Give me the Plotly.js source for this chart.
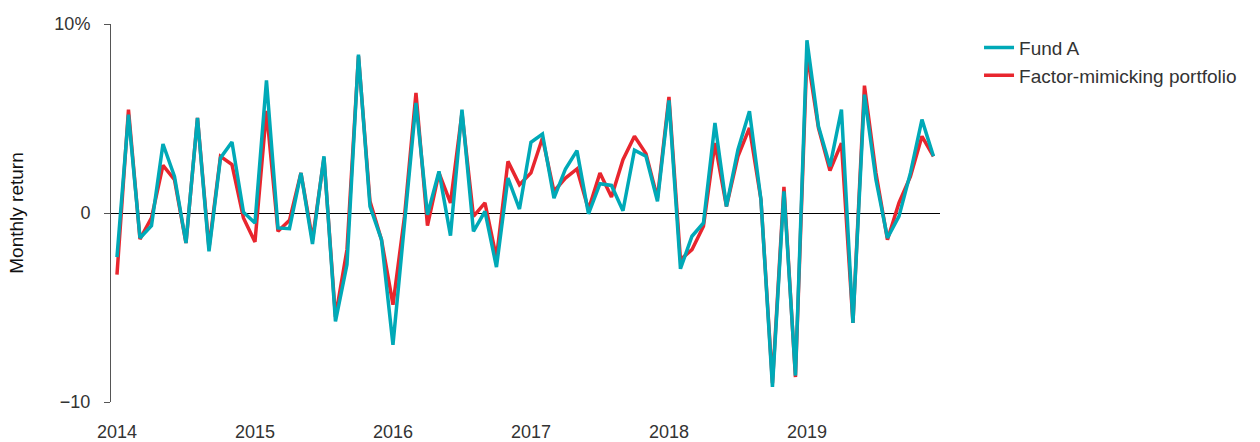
<!DOCTYPE html>
<html>
<head>
<meta charset="utf-8">
<script src="https://cdn.plot.ly/plotly-3.0.1.min.js"></script>
<style>html,body{margin:0;padding:0;background:#fff;}#chart{width:1260px;height:442px;}</style>
</head>
<body>
<div id="chart"></div>
<script>
const years = ['2014','2015','2016','2017','2018','2019'];
const months = [];
years.forEach(y => { for (let m = 1; m <= 12; m++) months.push(y + '-' + String(m).padStart(2,'0')); });

const fundA = [
  -2.33, 5.2, -1.32, -0.67, 3.65, 1.94, -1.59, 5.03, -2.03, 2.91, 3.76, 0.04,
  -0.53, 7.02, -0.79, -0.83, 2.12, -1.64, 3.0, -5.73, -2.73, 8.38, 0.35, -1.41,
  -6.97, -0.5, 5.82, -0.09, 2.2, -1.2, 5.47, -0.97, 0.09, -2.86, 1.85, 0.21,
  3.74, 4.18, 0.79, 2.33, 3.3, -0.04, 1.55, 1.46, 0.12, 3.32, 3.0, 0.62,
  5.96, -2.95, -1.23, -0.53, 4.76, 0.35, 3.35, 5.38, 0.71, -9.2, 1.15, -8.6,
  9.14, 4.59, 2.47, 5.47, -5.82, 6.26, 1.76, -1.32, -0.18, 2.12, 4.94, 3.0
];
const factor = [
  -3.26, 5.47, -1.38, -0.26, 2.52, 1.76, -1.59, 5.03, -1.85, 3.0, 2.56, -0.26,
  -1.53, 5.4, -0.97, -0.39, 2.12, -1.41, 2.91, -5.5, -1.94, 8.3, 0.62, -1.41,
  -4.85, -0.2, 6.35, -0.67, 2.12, 0.53, 5.29, -0.18, 0.53, -2.38, 2.73, 1.5,
  2.12, 3.97, 1.15, 1.85, 2.33, 0.18, 2.12, 0.85, 2.82, 4.06, 3.14, 0.79,
  6.14, -2.47, -1.94, -0.7, 3.7, 0.35, 3.0, 4.5, 0.71, -9.0, 1.38, -8.68,
  8.47, 4.5, 2.24, 3.7, -5.82, 6.74, 2.12, -1.41, 0.53, 1.94, 4.06, 3.0
];
const yTickVals = [-10, 0, 10];
const yTickText = ['\u221210', '0', '10%'];
const xTickVals = years.map(y => y + '-01');

const TEAL = '#00A9B7';
const RED = '#E8262E';
const FONT = 'Liberation Sans, Arial, sans-serif';

const data = [
  {x: months, y: factor, type: 'scatter', mode: 'lines', name: 'Factor-mimicking portfolio',
   line: {color: RED, width: 3.5}},
  {x: months, y: fundA, type: 'scatter', mode: 'lines', name: 'Fund A',
   line: {color: TEAL, width: 3.5}}
];

const layout = {
  width: 1260, height: 442,
  margin: {l: 111, r: 320, t: 24, b: 40},
  paper_bgcolor: '#fff', plot_bgcolor: '#fff',
  font: {family: FONT, size: 18, color: '#333'},
  showlegend: true,
  legend: {traceorder: 'reversed', xref: 'container', yref: 'container', x: 0.777, y: 0.935,
           xanchor: 'left', yanchor: 'top', font: {family: FONT, size: 19, color: '#333'},
           bgcolor: 'rgba(0,0,0,0)', tracegroupgap: 0},
  xaxis: {
    type: 'category', range: [-0.52, 71.57],
    tickmode: 'array', tickvals: xTickVals, ticktext: years,
    showgrid: false, zeroline: false, showline: false,
    ticks: 'outside', ticklen: 13, tickcolor: 'rgba(0,0,0,0)',
    tickfont: {family: FONT, size: 18, color: '#333'}
  },
  yaxis: {
    range: [-10, 10], tickmode: 'array', tickvals: yTickVals, ticktext: yTickText,
    showgrid: false, zeroline: true, zerolinecolor: '#000', zerolinewidth: 1,
    showline: true, linecolor: '#555', linewidth: 1,
    ticks: 'outside', ticklen: 6, tickcolor: '#555', tickwidth: 1,
    ticklabelstandoff: 10,
    tickfont: {family: FONT, size: 18, color: '#333'},
    title: {text: 'Monthly return', font: {family: FONT, size: 19, color: '#111'}, standoff: 25}
  }
};

Plotly.newPlot('chart', data, layout, {displayModeBar: false, staticPlot: true});
</script>
</body>
</html>
